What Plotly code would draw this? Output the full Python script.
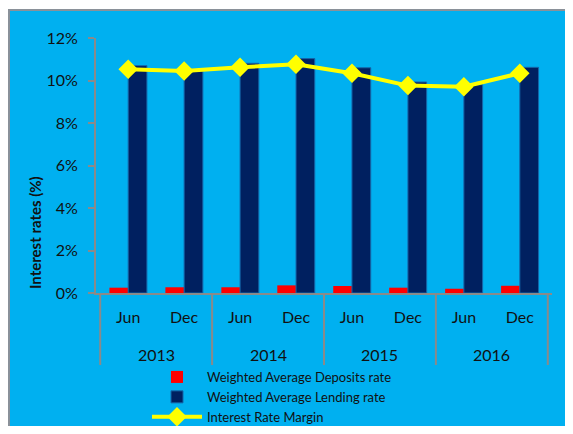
import plotly.graph_objects as go

years = ["2013", "2013", "2014", "2014", "2015", "2015", "2016", "2016"]
months = ["Jun", "Dec", "Jun", "Dec", "Jun", "Dec", "Jun", "Dec"]
deposits = [0.25, 0.27, 0.27, 0.36, 0.33, 0.25, 0.20, 0.34]
lending = [10.70, 10.53, 10.81, 11.03, 10.60, 9.93, 9.80, 10.62]
margin = [10.53, 10.45, 10.62, 10.76, 10.34, 9.76, 9.71, 10.34]

FONT = "Lato"
TXT = "#111111"
GRID = "#8a8a8a"
cats = [f"{m} {y}" for m, y in zip(months, years)]

# page offset (body margin) and figure size
OFF = 8
FW, FH = 573 - 2 * OFF, 434 - 2 * OFF
# plot-area geometry in window pixels
L, R, T, B = 96, 552, 38, 293
W, H = R - L, B - T

def px_x(p):
    return (p - L) / W

def px_y(p):
    return (B - p) / H

fig = go.Figure()
fig.add_trace(go.Bar(x=cats, y=deposits, name="Weighted Average Deposits rate",
                     marker=dict(color="#FF0000", line=dict(width=0))))
fig.add_trace(go.Bar(x=cats, y=lending, name="Weighted Average Lending rate",
                     marker=dict(color="#002060", line=dict(color="#1565a8", width=1))))
fig.add_trace(go.Scatter(x=cats, y=margin, name="Interest Rate Margin", mode="lines+markers",
                         line=dict(color="#FFFF00", width=4),
                         marker=dict(symbol="diamond", size=15, color="#FFFF00")))

# chart-area frame (background panel with grey border)
fig.add_shape(type="rect", xref="paper", yref="paper",
              x0=px_x(9), x1=px_x(640), y0=px_y(500), y1=px_y(10),
              fillcolor="#00B0F0", line=dict(color="#8a9199", width=2), layer="below")

# year groups: dividers and labels
unique_years = sorted(set(years))
bounds = [-0.5]
for yr in unique_years:
    idx = [i for i, v in enumerate(years) if v == yr]
    bounds.append(idx[-1] + 0.5)
    fig.add_annotation(x=(idx[0] + idx[-1]) / 2, y=px_y(354), xref="x", yref="paper",
                       text=yr, showarrow=False, font=dict(size=16, family=FONT, color=TXT),
                       xanchor="center", yanchor="middle")
for b in bounds:
    fig.add_shape(type="line", xref="x", yref="paper", x0=b, x1=b,
                  y0=0, y1=px_y(365), line=dict(color=GRID, width=2))

# y-axis title
fig.add_annotation(x=px_x(35), y=px_y(233), xref="paper", yref="paper",
                   text="<b>Interest rates (%)</b>", textangle=-90, showarrow=False,
                   xanchor="center", yanchor="middle",
                   font=dict(size=15, family=FONT, color=TXT))

fig.update_layout(
    width=FW, height=FH,
    margin=dict(l=L - OFF, r=FW - (R - OFF), t=T - OFF, b=FH - (B - OFF), autoexpand=False),
    paper_bgcolor="white",
    plot_bgcolor="rgba(0,0,0,0)",
    barmode="group", bargap=0.33, bargroupgap=0,
    font=dict(family=FONT, color=TXT, size=15),
    showlegend=True,
    legend=dict(x=px_x(147), y=px_y(362), xanchor="left", yanchor="top",
                bgcolor="rgba(0,0,0,0)", font=dict(size=13, family=FONT, color=TXT),
                itemwidth=50, tracegroupgap=0, traceorder="normal"),
    xaxis=dict(type="category", showline=True, linecolor=GRID, linewidth=2,
               tickvals=cats, ticktext=months, ticks="", automargin=False,
               ticklabelstandoff=9,
               tickfont=dict(size=16, family=FONT, color=TXT), showgrid=False),
    yaxis=dict(range=[0, 12], dtick=2, ticksuffix="%", showgrid=False, zeroline=False,
               showline=True, linecolor=GRID, linewidth=2, ticks="outside",
               ticklen=6, tickcolor=GRID, tickwidth=2, automargin=False,
               ticklabelstandoff=7,
               tickfont=dict(size=16, family=FONT, color=TXT)),
)

fig.write_html("out.html")
